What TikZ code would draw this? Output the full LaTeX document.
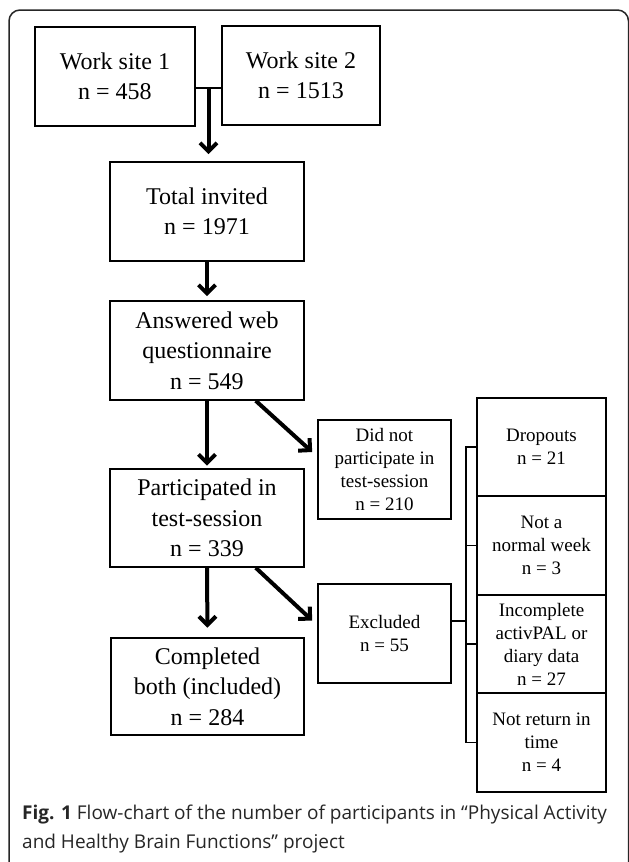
\documentclass[tikz,border=0pt]{standalone}
\usepackage{fontspec}
\setmainfont{Liberation Serif}
\newfontfamily\capfont{Open Sans}
\usetikzlibrary{arrows.meta,calc}
\begin{document}
\begin{tikzpicture}[x=1pt,y=-1pt,
  box/.style={draw,line width=1.6pt,align=center,inner sep=0pt,minimum width=194pt,minimum height=99pt,font=\fontsize{24}{30.5}\selectfont},
  sbox/.style={draw,line width=1.6pt,align=center,inner sep=0pt,minimum width=133pt,minimum height=99pt,font=\fontsize{19}{23}\selectfont},
  rbox/.style={draw,line width=1.6pt,align=center,inner sep=0pt,minimum width=129pt,minimum height=98.5pt,font=\fontsize{19}{23}\selectfont},
  arr/.style={line width=4pt,-{Straight Barb[length=8.5pt,width=17pt]}},
  link/.style={line width=1.8pt},
  frame/.style={line width=1.5pt,draw=black!85}]
\clip (0,0) rectangle (629,862);
\fill[white] (0,0) rectangle (629,862);
\draw[frame,rounded corners=11pt] (9,10) rectangle (628.5,900);

% main column
\node[box,minimum width=160pt] (ws1) at (115,76.5) {Work site 1\\n = 458};
\node[box,minimum width=158pt] (ws2) at (301,75.5) {Work site 2\\n = 1513};
\node[box] (tot) at (207,211.5) {Total invited\\n = 1971};
\node[box] (ans) at (207,350.5) {Answered web\\questionnaire\\n = 549};
\node[box,minimum height=98pt] (par) at (207,518) {Participated in\\test-session\\n = 339};
\node[box,minimum height=97pt,minimum width=193pt] (com) at (207.5,686.5) {Completed\\both (included)\\n = 284};

% side boxes
\node[sbox] (dnp) at (384.5,469.5) {Did not\\participate in\\test-session\\n = 210};
\node[sbox] (exc) at (384.5,633.5) {Excluded\\n = 55};

% right column
\node[rbox] (r1) at (541.5,447) {Dropouts\\n = 21};
\node[rbox] (r2) at (541.5,545.5) {Not a\\normal week\\n = 3};
\node[rbox] (r3) at (541.5,644) {Incomplete\\activPAL or\\diary data\\n = 27};
\node[rbox] (r4) at (541.5,742.5) {Not return in\\time\\n = 4};

% work-site junction
\coordinate (j) at ($(ws1.east)+(0,11.5)$);
\coordinate (jm) at ($(j)!0.5!(j -| ws2.west)$);
\draw[link] (j) -- (j -| ws2.west);
\draw[arr,shorten >=7pt] (jm) -- (jm |- tot.north);

% vertical arrows
\draw[arr,shorten >=4pt] (tot.south) -- (ans.north);
\draw[arr,shorten >=2.5pt] (ans.south) -- (par.north);
\draw[arr,shorten >=9.5pt] (par.south) -- (com.north);

% diagonal arrows
\draw[arr] ($(ans.south east)+(-49,0)$) -- ($(dnp.west)+(-5,-17.5)$);
\draw[arr] ($(par.south east)+(-49,0)$) -- ($(exc.west)+(-5,-13)$);

% bracket
\coordinate (bx) at (466,0);
\coordinate (ex) at ($(exc.east)+(0,-12.5)$);
\draw[link] (ex) -- (ex -| bx);
\draw[link] (r1.west) -- (r1.west -| bx) -- (r4.west -| bx) -- (r4.west);
\draw[link] (r2.west) -- (r2.west -| bx);
\draw[link] (r3.west) -- (r3.west -| bx);

% caption
\node[anchor=base west,inner sep=0pt,align=left,text=black!85,
      font=\capfont\fontsize{19}{28.5}\selectfont] (cap) at (22,848)
  {\textbf{Fig. 1} Flow-chart of the number of participants in “Physical Activity\\and Healthy Brain Functions” project};
\end{tikzpicture}
\end{document}
